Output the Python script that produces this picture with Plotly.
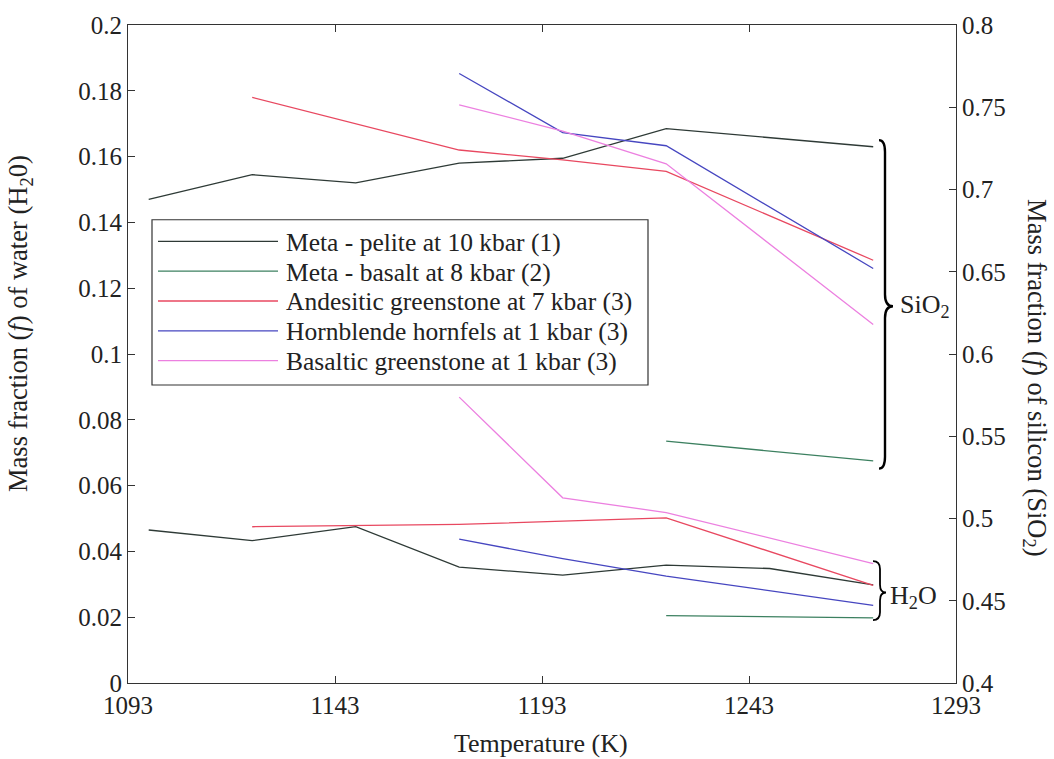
import plotly.graph_objects as go

# ---------------- data ----------------
SERIES_NAMES = [
    "Meta - pelite at 10 kbar (1)",
    "Meta - basalt at 8 kbar (2)",
    "Andesitic greenstone at 7 kbar (3)",
    "Hornblende hornfels at 1 kbar (3)",
    "Basaltic greenstone at 1 kbar (3)",
]
SERIES_COLORS = ["#2e3a36", "#3c8060", "#e84860", "#4646c0", "#ec80e0"]

# SiO2 (right axis)
T_SIO2_PELITE = [1098, 1123, 1148, 1173, 1198, 1223, 1273]
SIO2_PELITE = [0.694, 0.709, 0.704, 0.716, 0.719, 0.737, 0.726]
T_SIO2_BASALT = [1223, 1273]
SIO2_BASALT = [0.547, 0.535]
T_SIO2_ANDES = [1123, 1173, 1198, 1223, 1273]
SIO2_ANDES = [0.756, 0.724, 0.718, 0.711, 0.657]
T_SIO2_HORN = [1173, 1198, 1223, 1273]
SIO2_HORN = [0.7705, 0.7346, 0.7266, 0.652]
T_SIO2_BGS = [1173, 1198, 1223, 1273]
SIO2_BGS = [0.7515, 0.7355, 0.7156, 0.618]

# H2O (left axis)
T_H2O_PELITE = [1098, 1123, 1148, 1173, 1198, 1223, 1248, 1273]
H2O_PELITE = [0.0465, 0.0433, 0.0475, 0.0352, 0.0328, 0.0358, 0.0348, 0.0298]
T_H2O_BASALT = [1223, 1273]
H2O_BASALT = [0.0205, 0.0198]
T_H2O_ANDES = [1123, 1148, 1173, 1198, 1223, 1273]
H2O_ANDES = [0.0475, 0.0479, 0.0482, 0.0492, 0.0502, 0.0297]
T_H2O_HORN = [1173, 1198, 1223, 1248, 1273]
H2O_HORN = [0.0437, 0.0378, 0.0325, 0.0280, 0.0236]
T_H2O_BGS = [1173, 1198, 1223, 1273]
H2O_BGS = [0.0869, 0.0563, 0.0518, 0.0363]

X_TICKS = [1093, 1143, 1193, 1243, 1293]
Y_TICKS = [0, 0.02, 0.04, 0.06, 0.08, 0.1, 0.12, 0.14, 0.16, 0.18, 0.2]
Y_TICKTEXT = ["0", "0.02", "0.04", "0.06", "0.08", "0.1", "0.12", "0.14", "0.16", "0.18", "0.2"]
Y2_TICKS = [0.4, 0.45, 0.5, 0.55, 0.6, 0.65, 0.7, 0.75, 0.8]
Y2_TICKTEXT = ["0.4", "0.45", "0.5", "0.55", "0.6", "0.65", "0.7", "0.75", "0.8"]

SIO2_SETS = [(T_SIO2_PELITE, SIO2_PELITE), (T_SIO2_BASALT, SIO2_BASALT),
             (T_SIO2_ANDES, SIO2_ANDES), (T_SIO2_HORN, SIO2_HORN), (T_SIO2_BGS, SIO2_BGS)]
H2O_SETS = [(T_H2O_PELITE, H2O_PELITE), (T_H2O_BASALT, H2O_BASALT),
            (T_H2O_ANDES, H2O_ANDES), (T_H2O_HORN, H2O_HORN), (T_H2O_BGS, H2O_BGS)]

# ---------------- layout geometry (pixels) ----------------
W, H = 1054, 759
ML, MR, MT, MB = 128, 98, 14, 76
PW = W - ML - MR
PH = H - MT - MB
FONT = "Liberation Serif"
TXT = "#222"


def px(x, y):
    """pixel -> paper coordinates"""
    return (x - ML) / PW, (H - MB - y) / PH


fig = go.Figure()

for name, color, (tx, ty) in zip(SERIES_NAMES, SERIES_COLORS, H2O_SETS):
    fig.add_trace(go.Scatter(x=tx, y=ty, mode="lines", name=name,
                             line=dict(color=color, width=1.3), showlegend=False,
                             yaxis="y"))
for name, color, (tx, ty) in zip(SERIES_NAMES, SERIES_COLORS, SIO2_SETS):
    fig.add_trace(go.Scatter(x=tx, y=ty, mode="lines", name=name,
                             line=dict(color=color, width=1.3), showlegend=False,
                             yaxis="y2"))

axis_common = dict(showline=True, linecolor="#333", linewidth=1, ticks="inside",
                   ticklen=7, tickcolor="#333", showgrid=False, zeroline=False,
                   tickfont=dict(family=FONT, size=25, color=TXT))

fig.update_layout(
    width=W, height=H,
    margin=dict(l=ML, r=MR, t=MT, b=MB),
    paper_bgcolor="white", plot_bgcolor="white",
    font=dict(family=FONT, color=TXT),
    xaxis=dict(range=[X_TICKS[0], X_TICKS[-1]], tickvals=X_TICKS, mirror="ticks",
               **axis_common),
    yaxis=dict(range=[0, 0.2], tickvals=Y_TICKS, ticktext=Y_TICKTEXT, **axis_common),
    yaxis2=dict(range=[0.4, 0.8], tickvals=Y2_TICKS, ticktext=Y2_TICKTEXT,
                overlaying="y", side="right", **axis_common),
)

shapes = []
annotations = []

# axis titles
annotations.append(dict(xref="paper", yref="paper", x=px(20, 0)[0], y=px(0, 318)[1],
                        text="Mass fraction (<i>f</i>) of water (H<sub>2</sub>0)",
                        textangle=-90, showarrow=False, xanchor="center", yanchor="middle",
                        font=dict(family=FONT, size=26.5, color=TXT)))
annotations.append(dict(xref="paper", yref="paper", x=px(1035, 0)[0], y=px(0, 372)[1],
                        text="Mass fraction (<i>f</i>) of silicon (SiO<sub>2</sub>)",
                        textangle=90, showarrow=False, xanchor="center", yanchor="middle",
                        font=dict(family=FONT, size=26.5, color=TXT)))
annotations.append(dict(xref="paper", yref="paper", x=px(541, 0)[0], y=px(0, 745)[1],
                        text="Temperature (K)", showarrow=False,
                        xanchor="center", yanchor="middle",
                        font=dict(family=FONT, size=26, color=TXT)))

# legend (drawn manually to match long line samples)
lx0, ly0 = px(152, 212)
lx1, ly1 = px(648, 380)
shapes.append(dict(type="rect", xref="paper", yref="paper", x0=lx0, y0=ly0, x1=lx1, y1=ly1,
                   line=dict(color="#333", width=1.2), fillcolor="white", layer="above"))
for i, (name, color) in enumerate(zip(SERIES_NAMES, SERIES_COLORS)):
    ry = 234 + i * 30.3
    a0 = px(158, ry)
    a1 = px(278, ry)
    shapes.append(dict(type="line", xref="paper", yref="paper", x0=a0[0], y0=a0[1],
                       x1=a1[0], y1=a1[1], line=dict(color=color, width=1.3), layer="above"))
    t = px(284, ry + 1)
    annotations.append(dict(xref="paper", yref="paper", x=t[0], y=t[1], text=name,
                            showarrow=False, xanchor="left", yanchor="middle",
                            font=dict(family=FONT, size=25.5, color=TXT)))


def brace(xl, xs, xt, y1, y2, ym, r=10):
    def p(x, y):
        a, b = px(x, y)
        return f"{a:.5f},{b:.5f}"
    d = (f"M {p(xl, y1)} Q {p(xs, y1)} {p(xs, y1 + r)} L {p(xs, ym - r)} "
         f"Q {p(xs, ym)} {p(xt, ym)} Q {p(xs, ym)} {p(xs, ym + r)} "
         f"L {p(xs, y2 - r)} Q {p(xs, y2)} {p(xl, y2)}")
    return d


shapes.append(dict(type="path", xref="paper", yref="paper",
                   path=brace(879, 885, 893, 131, 465, 300, r=12),
                   line=dict(color="black", width=2.4)))
shapes.append(dict(type="path", xref="paper", yref="paper",
                   path=brace(873, 880, 886, 559, 619, 591, r=8),
                   line=dict(color="black", width=1.8)))

s = px(898, 300)
annotations.append(dict(xref="paper", yref="paper", x=s[0], y=s[1], text="SiO<sub>2</sub>",
                        showarrow=False, xanchor="left", yanchor="middle",
                        font=dict(family=FONT, size=26, color=TXT)))
h = px(888, 596)
annotations.append(dict(xref="paper", yref="paper", x=h[0], y=h[1], text="H<sub>2</sub>O",
                        showarrow=False, xanchor="left", yanchor="middle",
                        font=dict(family=FONT, size=26, color=TXT)))

fig.update_layout(shapes=shapes, annotations=annotations)

fig.write_html("out.html")
